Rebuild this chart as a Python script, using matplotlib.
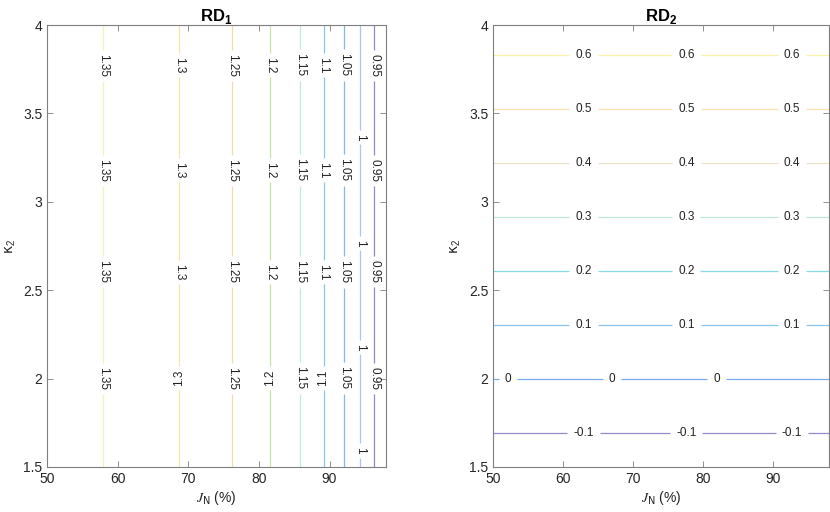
import matplotlib

matplotlib.use("Agg")

import matplotlib.pyplot as plt  # noqa: E402
import numpy as np  # noqa: E402

# --- Datos ---
# RD1 depende solo de J_N: valor en cada columna de la rejilla
jn_rd1 = [50.0, 57.94, 68.72, 76.2, 81.63, 85.8, 89.15, 91.99, 94.26, 96.34, 98.0]
rd1_vals = [1.387, 1.35, 1.3, 1.25, 1.2, 1.15, 1.1, 1.05, 1.0, 0.95, 0.91]
rd1_levels = [0.95, 1.0, 1.05, 1.1, 1.15, 1.2, 1.25, 1.3, 1.35]
rd1_colors = ["#8f89c8", "#adc4f4", "#86b6ea", "#86c8e0", "#bfe8e2",
              "#c8e2a8", "#eedfaa", "#f5e4a2", "#f7f3b8"]

# RD2 depende solo de kappa_2: valor en cada fila de la rejilla
k2_rd2 = [1.5, 1.694, 2.0, 2.305, 2.609, 2.915, 3.217, 3.524, 3.83, 4.0]
rd2_vals = [-0.164, -0.1, 0.0, 0.1, 0.2, 0.3, 0.4, 0.5, 0.6, 0.656]
rd2_levels = [-0.1, 0.0, 0.1, 0.2, 0.3, 0.4, 0.5, 0.6]
rd2_colors = ["#938dca", "#78acec", "#86c6f0", "#88dae4", "#bde8d6",
              "#eae4c8", "#fbe2ae", "#f6f0a8"]

jn_lims = [50.0, 98.0]
k2_lims = [1.5, 4.0]

plt.rcParams["font.family"] = ["Liberation Sans", "DejaVu Sans"]
plt.rcParams["mathtext.fontset"] = "custom"
plt.rcParams["mathtext.rm"] = "Liberation Sans"
plt.rcParams["mathtext.bf"] = "Liberation Sans:bold"
plt.rcParams["mathtext.it"] = "DejaVu Sans"
plt.rcParams["mathtext.cal"] = "STIXGeneral:italic"

fig = plt.figure(figsize=(8.3, 5.12), dpi=100)
ax1 = fig.add_axes([0.057, 0.088, 0.408, 0.863])
ax2 = fig.add_axes([0.594, 0.088, 0.405, 0.863])

# Panel 1
X1, Y1 = np.meshgrid(jn_rd1, k2_lims)
Z1 = np.tile(rd1_vals, (2, 1))
cs1 = ax1.contour(X1, Y1, Z1, levels=rd1_levels, colors=rd1_colors, linewidths=0.9)
lab_pos1 = []
for x, lev in zip(jn_rd1[1:-1], rd1_vals[1:-1]):
    ys = [3.367, 2.767, 2.178, 1.594] if lev == 1.0 else [3.774, 3.18, 2.603, 2.003]
    lab_pos1 += [(x, y) for y in ys]
txt1 = ax1.clabel(cs1, inline=True, fontsize=8.5, manual=lab_pos1, fmt="%g",
                  colors="#222222", inline_spacing=4)
for t in txt1:
    x, y = t.get_position()
    flip = abs(y - 2.003) < 0.05 and t.get_text() in ("1.3", "1.2", "1.1")
    t.set_rotation(90 if flip else 270)

# Panel 2
X2, Y2 = np.meshgrid(jn_lims, k2_rd2)
Z2 = np.tile(np.array(rd2_vals)[:, None], (1, 2))
cs2 = ax2.contour(X2, Y2, Z2, levels=rd2_levels, colors=rd2_colors, linewidths=0.9)
lab_pos2 = []
for y, lev in zip(k2_rd2[1:-1], rd2_vals[1:-1]):
    xs = [52.1, 67.0, 81.9] if lev == 0.0 else [62.9, 77.6, 92.7]
    lab_pos2 += [(x, y) for x in xs]
ax2.clabel(cs2, inline=True, fontsize=8.5, manual=lab_pos2, fmt="%g",
           colors="#222222", inline_spacing=6)

for ax, title in ((ax1, r"$\mathbf{RD}_\mathbf{1}$"), (ax2, r"$\mathbf{RD}_\mathbf{2}$")):
    ax.set_xlim(jn_lims)
    ax.set_ylim(k2_lims)
    ax.set_xticks([50, 60, 70, 80, 90])
    ax.set_yticks([1.5, 2, 2.5, 3, 3.5, 4])
    ax.set_yticklabels(["1.5", "2", "2.5", "3", "3.5", "4"])
    ax.tick_params(direction="in", top=True, right=True, length=4, width=0.6,
                   colors="#7f7f7f", labelcolor="#262626", labelsize=10)
    for sp in ax.spines.values():
        sp.set_color("#7f7f7f")
        sp.set_linewidth(0.8)
    ax.set_title(title, fontsize=12, pad=3)
    ax.set_xlabel(r"$\mathcal{J}_N$ (%)", fontsize=10, color="#262626", labelpad=2)
    ax.set_ylabel(r"$\kappa_2$", fontsize=10, color="#262626", labelpad=4)

fig.savefig("out.png", dpi=100)
plt.close(fig)
